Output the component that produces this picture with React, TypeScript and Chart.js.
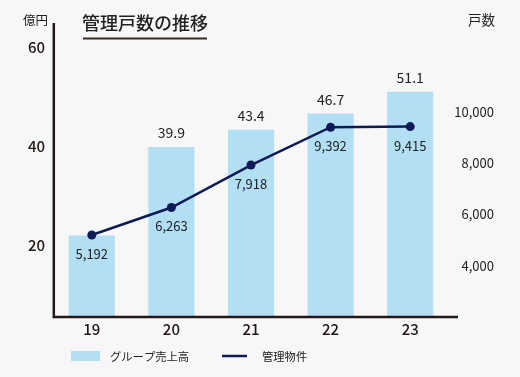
import React, { useEffect, useRef } from "react";
import { Chart, registerables } from "chart.js";

Chart.register(...registerables);

const categories = ["19", "20", "21", "22", "23"];
const salesValues = [22.0, 39.9, 43.4, 46.7, 51.1];
const salesLabelShown = [false, true, true, true, true];
const unitValues = [5192, 6263, 7918, 9392, 9415];
const leftTicks = [20, 40, 60];
const rightTicks = [4000, 6000, 8000, 10000];

const titleText = "管理戸数の推移";
const leftUnit = "億円";
const rightUnit = "戸数";
const salesName = "グループ売上高";
const unitsName = "管理物件";

const FONT = "'Noto Sans CJK JP', 'Noto Sans', sans-serif";
const BAR_COLOR = "#b2dff4";
const LINE_COLOR = "#0e1b57";
const AXIS_COLOR = "#231815";
const TEXT_COLOR = "#222222";
const BG = "#f7f7f7";

const fmt = (v: number) => v.toLocaleString("en-US");

const decorPlugin = {
  id: "decor",
  beforeDraw(chart: any) {
    const { ctx, width, height } = chart;
    ctx.save();
    ctx.fillStyle = BG;
    ctx.fillRect(0, 0, width, height);
    ctx.restore();
  },
  afterDatasetsDraw(chart: any) {
    const { ctx, chartArea } = chart;
    ctx.save();
    // axis lines
    ctx.strokeStyle = AXIS_COLOR;
    ctx.lineWidth = 2.5;
    ctx.beginPath();
    ctx.moveTo(53.8, 23);
    ctx.lineTo(53.8, chartArea.bottom + 1.2);
    ctx.moveTo(52.5, chartArea.bottom);
    ctx.lineTo(458, chartArea.bottom);
    ctx.stroke();

    // bar labels
    const barMeta = chart.getDatasetMeta(1);
    ctx.fillStyle = TEXT_COLOR;
    ctx.textAlign = "center";
    ctx.textBaseline = "middle";
    ctx.font = `14px ${FONT}`;
    barMeta.data.forEach((el: any, i: number) => {
      if (!salesLabelShown[i]) return;
      ctx.fillText(salesValues[i].toFixed(1), el.x, el.y - 14);
    });
    // line labels
    const lineMeta = chart.getDatasetMeta(0);
    ctx.font = `13px ${FONT}`;
    lineMeta.data.forEach((el: any, i: number) => {
      ctx.fillText(fmt(unitValues[i]), el.x, el.y + 19);
    });

    // title
    ctx.font = `500 18px ${FONT}`;
    ctx.textAlign = "left";
    ctx.fillStyle = TEXT_COLOR;
    ctx.fillText(titleText, 82, 23);
    ctx.strokeStyle = "#3a2b26";
    ctx.lineWidth = 2;
    ctx.beginPath();
    ctx.moveTo(83, 38.5);
    ctx.lineTo(207, 38.5);
    ctx.stroke();

    // units
    ctx.font = `12.5px ${FONT}`;
    ctx.fillText(leftUnit, 23, 20);
    ctx.font = `13.5px ${FONT}`;
    ctx.fillText(rightUnit, 468, 20);

    // legend
    ctx.fillStyle = BAR_COLOR;
    ctx.fillRect(71, 351, 29, 10);
    ctx.fillStyle = TEXT_COLOR;
    ctx.font = `11.3px ${FONT}`;
    ctx.fillText(salesName, 110, 357);
    ctx.strokeStyle = LINE_COLOR;
    ctx.lineWidth = 2.5;
    ctx.beginPath();
    ctx.moveTo(222, 356);
    ctx.lineTo(247, 356);
    ctx.stroke();
    ctx.fillStyle = TEXT_COLOR;
    ctx.fillText(unitsName, 262, 357);
    ctx.restore();
  },
};

export default function App() {
  const ref = useRef<HTMLCanvasElement | null>(null);
  useEffect(() => {
    document.body.style.margin = "0";
    const canvas = ref.current;
    if (!canvas) return;
    const chart = new Chart(canvas, {
      type: "bar",
      data: {
        labels: categories,
        datasets: [
          {
            type: "line",
            label: unitsName,
            data: unitValues,
            yAxisID: "y1",
            borderColor: LINE_COLOR,
            backgroundColor: LINE_COLOR,
            borderWidth: 2.5,
            pointRadius: 4.5,
            pointBackgroundColor: LINE_COLOR,
            pointBorderWidth: 0,
            tension: 0,
            order: 0,
          } as any,
          {
            type: "bar",
            label: salesName,
            data: salesValues,
            yAxisID: "y",
            backgroundColor: BAR_COLOR,
            barPercentage: 0.58,
            categoryPercentage: 1,
            order: 1,
          },
        ],
      },
      options: {
        responsive: false,
        animation: false,
        devicePixelRatio: 1,
        layout: { padding: { top: 23, left: 0, right: 26, bottom: 0 } },
        plugins: {
          legend: { display: false },
          tooltip: { enabled: false },
        },
        scales: {
          x: {
            type: "category",
            offset: true,
            grid: { display: false, drawTicks: false },
            border: { display: false },
            ticks: {
              color: AXIS_COLOR,
              font: { family: FONT, size: 15, weight: "500" },
              padding: 3,
            },
            afterFit(s: any) {
              s.height = 60;
            },
          },
          y: {
            position: "left",
            min: 5.5,
            max: 65,
            grid: { display: false, drawTicks: false },
            border: { display: false },
            ticks: {
              color: AXIS_COLOR,
              font: { family: FONT, size: 15, weight: "500" },
              padding: 7,
            },
            afterBuildTicks(s: any) {
              s.ticks = leftTicks.map((v) => ({ value: v }));
            },
            afterFit(s: any) {
              s.width = 52;
            },
          },
          y1: {
            position: "right",
            min: 2000,
            max: 13450,
            grid: { display: false, drawTicks: false },
            border: { display: false },
            ticks: {
              color: TEXT_COLOR,
              font: { family: FONT, size: 13 },
              crossAlign: "far",
              callback: (v: any) => fmt(Number(v)),
            },
            afterBuildTicks(s: any) {
              s.ticks = rightTicks.map((v) => ({ value: v }));
            },
            afterFit(s: any) {
              s.width = 44;
            },
          },
        },
      } as any,
      plugins: [decorPlugin],
    });
    return () => chart.destroy();
  }, []);
  return (
    <div style={{ width: 520, height: 377, background: BG }}>
      <canvas ref={ref} width={520} height={377} style={{ display: "block" }} />
    </div>
  );
}
